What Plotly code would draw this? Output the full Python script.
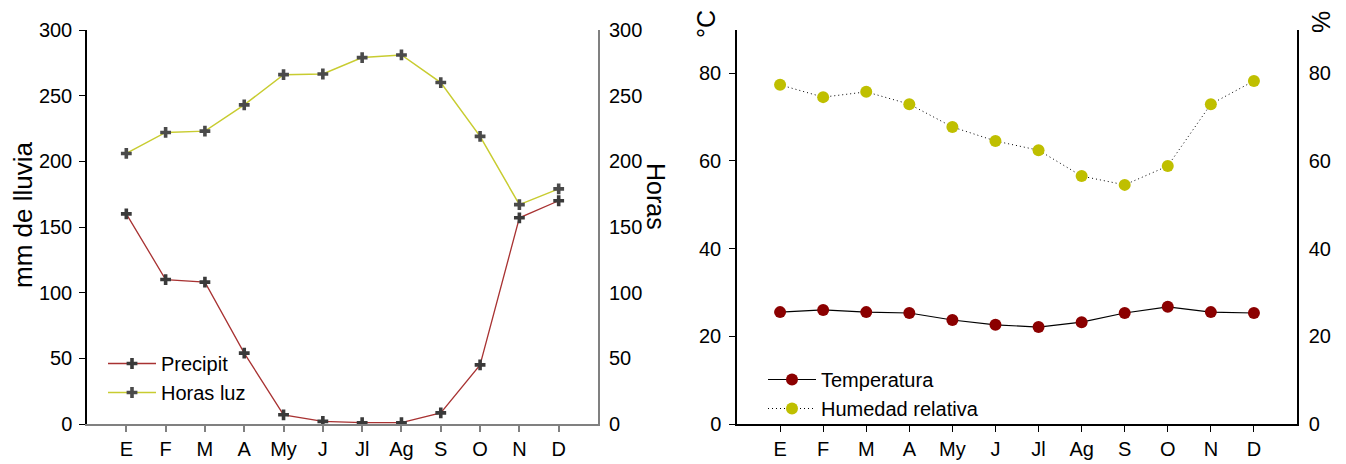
import plotly.graph_objects as go

meses = ["E", "F", "M", "A", "My", "J", "Jl", "Ag", "S", "O", "N", "D"]
precipit = [160, 110, 108, 54, 7, 2, 1, 1, 8.5, 45, 157, 170]
horas_luz = [206, 222, 223, 243, 266, 266.5, 279, 281, 260, 219, 167, 179]
temperatura = [25.5, 26, 25.5, 25.3, 23.7, 22.6, 22.1, 23.2, 25.3, 26.7, 25.5, 25.3]
humedad = [77.3, 74.5, 75.7, 72.9, 67.7, 64.5, 62.4, 56.5, 54.5, 58.8, 72.9, 78.2]

W, H = 1346, 464
OFF = 8  # page body margin
FONT = "Liberation Sans"

def px(x):
    return (x - OFF) / W

def py(y):
    return 1 - (y - OFF) / H

xi = list(range(12))

fig = go.Figure()

fig.add_trace(go.Scatter(
    x=xi, y=precipit, name="Precipit", mode="lines+markers",
    line=dict(color="#a83232", width=1.3),
    marker=dict(symbol="cross", size=9, color="#3a3a3a"),
    xaxis="x", yaxis="y", legend="legend"))
fig.add_trace(go.Scatter(
    x=xi, y=horas_luz, name="Horas luz", mode="lines+markers",
    line=dict(color="#c8cc30", width=1.5),
    marker=dict(symbol="cross", size=9, color="#4a4a4a"),
    xaxis="x", yaxis="y2", legend="legend"))

fig.add_trace(go.Scatter(
    x=xi, y=temperatura, name="Temperatura", mode="lines+markers",
    line=dict(color="#000000", width=1.2),
    marker=dict(symbol="circle", size=12, color="#8b0000"),
    xaxis="x2", yaxis="y3", legend="legend2"))
fig.add_trace(go.Scatter(
    x=xi, y=humedad, name="Humedad relativa", mode="lines+markers",
    line=dict(color="#000000", width=1, dash="1px,3px"),
    marker=dict(symbol="circle", size=12, color="#bfbf00"),
    xaxis="x2", yaxis="y4", legend="legend2"))

tickfont = dict(family=FONT, size=20, color="#000000")
common = dict(showgrid=False, zeroline=False, tickfont=tickfont, automargin=False)

def title_ann(text, x, y, angle, size):
    return dict(text=text, x=px(x), y=py(y), xref="paper", yref="paper",
                xanchor="center", yanchor="middle", textangle=angle,
                showarrow=False, font=dict(family=FONT, size=size, color="#000000"))

fig.update_layout(
    width=W, height=H,
    margin=dict(l=0, r=0, t=0, b=0),
    paper_bgcolor="white", plot_bgcolor="white",
    showlegend=True,
    font=dict(family=FONT, size=20, color="#000000"),
    xaxis=dict(
        domain=[px(87), px(598)], range=[-1, 12],
        tickmode="array", tickvals=xi, ticktext=meses,
        showline=True, linecolor="#808080", linewidth=2,
        ticks="outside", ticklen=6, tickcolor="#808080", tickwidth=1.5,
        anchor="y", **common),
    yaxis=dict(
        domain=[py(424), py(30)], range=[0, 300],
        tickvals=[0, 50, 100, 150, 200, 250, 300],
        showline=True, linecolor="#000000", linewidth=1.5,
        ticks="outside", ticklen=6, tickcolor="#000000",
        ticklabelstandoff=3, anchor="x", **common),
    yaxis2=dict(
        overlaying="y", side="right", range=[0, 300],
        tickvals=[0, 50, 100, 150, 200, 250, 300],
        showline=True, linecolor="#808080", linewidth=2,
        ticks="", ticklabelstandoff=5, anchor="x", **common),
    xaxis2=dict(
        domain=[px(737), px(1297)], range=[-1, 12],
        tickmode="array", tickvals=xi, ticktext=meses,
        showline=True, linecolor="#000000", linewidth=1.5,
        ticks="outside", ticklen=6, tickcolor="#000000",
        anchor="y3", **common),
    yaxis3=dict(
        domain=[py(424), py(30)], range=[0, 89.8],
        tickvals=[0, 20, 40, 60, 80],
        showline=True, linecolor="#000000", linewidth=1.5,
        ticks="outside", ticklen=6, tickcolor="#000000",
        ticklabelstandoff=4, anchor="x2", **common),
    yaxis4=dict(
        overlaying="y3", side="right", range=[0, 89.8],
        tickvals=[0, 20, 40, 60, 80],
        showline=True, linecolor="#000000", linewidth=1.5,
        ticks="", ticklabelstandoff=6, anchor="x2", **common),
    legend=dict(
        x=px(103), y=py(344), xanchor="left", yanchor="top",
        bgcolor="rgba(0,0,0,0)", font=dict(family=FONT, size=20),
        tracegroupgap=0, itemsizing="trace", itemwidth=48),
    legend2=dict(
        x=px(763), y=py(360), xanchor="left", yanchor="top",
        bgcolor="rgba(0,0,0,0)", font=dict(family=FONT, size=20),
        tracegroupgap=0, itemsizing="trace", itemwidth=48),
    annotations=[
        title_ann("mm de lluvia", 23, 215, -90, 26),
        title_ann("Horas", 656, 196, 90, 25),
        title_ann("°C", 706, 24, -90, 25),
        title_ann("%", 1321, 22, -90, 25),
    ],
)

fig.write_html("out.html")
